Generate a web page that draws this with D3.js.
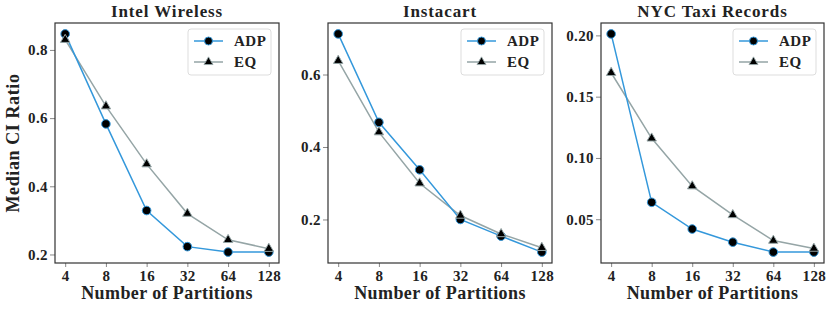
<!DOCTYPE html>
<html>
<head>
<meta charset="utf-8">
<script src="https://cdn.jsdelivr.net/npm/d3@7"></script>
<style>
  body { margin: 0; background: #fff; }
  svg text { font-family: "Liberation Serif", "DejaVu Serif", serif; font-weight: bold; fill: #222; }
</style>
</head>
<body>
<div id="chart"></div>
<script>
// Chart size
const width = 830;
const height = 309;

// Data
const partitions = [4, 8, 16, 32, 64, 128];
const seriesNames = ["ADP", "EQ"];
const titles = ["Intel Wireless", "Instacart", "NYC Taxi Records"];

const intelAdp = [0.847, 0.583, 0.329, 0.223, 0.207, 0.207];
const intelEq = [0.830, 0.635, 0.465, 0.320, 0.243, 0.217];
const instaAdp = [0.712, 0.468, 0.337, 0.200, 0.154, 0.110];
const instaEq = [0.638, 0.441, 0.300, 0.211, 0.160, 0.122];
const taxiAdp = [0.2012, 0.0638, 0.0420, 0.0313, 0.0232, 0.0232];
const taxiEq = [0.1695, 0.1160, 0.0770, 0.0535, 0.0326, 0.0261];

const intelTicks = [0.2, 0.4, 0.6, 0.8];
const instaTicks = [0.2, 0.4, 0.6];
const taxiTicks = [0.05, 0.10, 0.15, 0.20];

const colors = {ADP: "#3498db", EQ: "#95a5a6"};
const serif = '"Liberation Serif", "DejaVu Serif", serif';

// Panels: left/right edges of each axes box
const panels = [
  {left: 55, right: 279, title: titles[0], adp: intelAdp, eq: intelEq, ticks: intelTicks, fmt: d3.format(".1f")},
  {left: 328, right: 552, title: titles[1], adp: instaAdp, eq: instaEq, ticks: instaTicks, fmt: d3.format(".1f")},
  {left: 601, right: 824, title: titles[2], adp: taxiAdp, eq: taxiEq, ticks: taxiTicks, fmt: d3.format(".2f")}
];
const plotTop = 23;
const plotBottom = 263;

const svg = d3.select("#chart")
.append("svg")
.attr("width", width)
.attr("height", height);

panels.forEach(function (p) {
  const g = svg.append("g");

  // x is log2 with 5% padding like matplotlib
  const lo = Math.log2(4), hi = Math.log2(128), padX = (hi - lo) * 0.05;
  const xScale = d3.scaleLog().base(2)
  .domain([Math.pow(2, lo - padX), Math.pow(2, hi + padX)])
  .range([p.left, p.right]);

  const all = p.adp.concat(p.eq);
  const yMin = d3.min(all), yMax = d3.max(all), padY = (yMax - yMin) * 0.05;
  const yScale = d3.scaleLinear()
  .domain([yMin - padY, yMax + padY])
  .range([plotBottom, plotTop]);

  // Axes
  const xAxis = g.append("g")
  .attr("transform", `translate(0,${plotBottom})`)
  .call(d3.axisBottom(xScale).tickValues(partitions).tickFormat(d3.format("d")).tickSize(4).tickPadding(3));
  const yAxis = g.append("g")
  .attr("transform", `translate(${p.left},0)`)
  .call(d3.axisLeft(yScale).tickValues(p.ticks).tickFormat(p.fmt).tickSize(5).tickPadding(2));

  [xAxis, yAxis].forEach(function (ax) {
    ax.attr("font-family", serif).attr("font-weight", "bold");
    ax.select(".domain").remove();
    ax.selectAll(".tick line").attr("stroke", "#888").attr("stroke-width", 1);
    ax.selectAll(".tick text")
    .style("font-family", serif)
    .attr("font-size", "15px")
    .attr("letter-spacing", "0.4px")
    .attr("fill", "#222");
  });

  // Frame
  g.append("rect")
  .attr("x", p.left)
  .attr("y", plotTop)
  .attr("width", p.right - p.left)
  .attr("height", plotBottom - plotTop)
  .attr("fill", "none")
  .attr("stroke", "#333")
  .attr("stroke-width", 1.2);

  // Title
  g.append("text")
  .attr("x", (p.left + p.right) / 2)
  .attr("y", 17)
  .attr("text-anchor", "middle")
  .attr("font-size", "17px")
  .attr("letter-spacing", "0.9px")
  .text(p.title);

  // X label
  g.append("text")
  .attr("x", (p.left + p.right) / 2)
  .attr("y", 299)
  .attr("text-anchor", "middle")
  .attr("font-size", "18px")
  .attr("letter-spacing", "0.4px")
  .text("Number of Partitions");

  // Lines + markers
  const line = d3.line()
  .x((d, i) => xScale(partitions[i]))
  .y((d) => yScale(d));

  [["EQ", p.eq], ["ADP", p.adp]].forEach(function (s) {
    const name = s[0], vals = s[1];
    g.append("path")
    .datum(vals)
    .attr("fill", "none")
    .attr("stroke", colors[name])
    .attr("stroke-width", 1.5)
    .attr("d", line);
  });

  [["ADP", p.adp], ["EQ", p.eq]].forEach(function (s) {
    const name = s[0], vals = s[1];
    const sym = name === "ADP" ? d3.symbolCircle : d3.symbolTriangle;
    const size = name === "ADP" ? 58 : 38;
    g.selectAll(".m" + name)
    .data(vals)
    .enter()
    .append("path")
    .attr("class", "m" + name)
    .attr("transform", (d, i) => `translate(${xScale(partitions[i])},${yScale(d)})`)
    .attr("d", d3.symbol().type(sym).size(size))
    .attr("fill", "#000")
    .attr("stroke", colors[name])
    .attr("stroke-width", 1);
  });

  // Legend
  const lx = p.right - 91, ly = plotTop + 6;
  const legend = g.append("g").attr("transform", `translate(${lx},${ly})`);
  legend.append("rect")
  .attr("width", 83)
  .attr("height", 46)
  .attr("rx", 3)
  .attr("fill", "#fff")
  .attr("stroke", "#ddd")
  .attr("stroke-width", 1);
  seriesNames.forEach(function (name, i) {
    const yy = 12 + i * 21;
    legend.append("line")
    .attr("x1", 6).attr("x2", 35)
    .attr("y1", yy).attr("y2", yy)
    .attr("stroke", colors[name])
    .attr("stroke-width", 1.5);
    legend.append("path")
    .attr("transform", `translate(20.5,${yy})`)
    .attr("d", d3.symbol().type(name === "ADP" ? d3.symbolCircle : d3.symbolTriangle).size(name === "ADP" ? 50 : 34))
    .attr("fill", "#000")
    .attr("stroke", colors[name]);
    legend.append("text")
    .attr("x", 46)
    .attr("y", yy + 5)
    .attr("font-size", "15px")
    .attr("letter-spacing", "0.5px")
    .text(name);
  });
});

// Y label
svg.append("text")
.attr("transform", `translate(19,${(plotTop + plotBottom) / 2}) rotate(-90)`)
.attr("text-anchor", "middle")
.attr("font-size", "18px")
.attr("letter-spacing", "0.6px")
.text("Median CI Ratio");
</script>
</body>
</html>
